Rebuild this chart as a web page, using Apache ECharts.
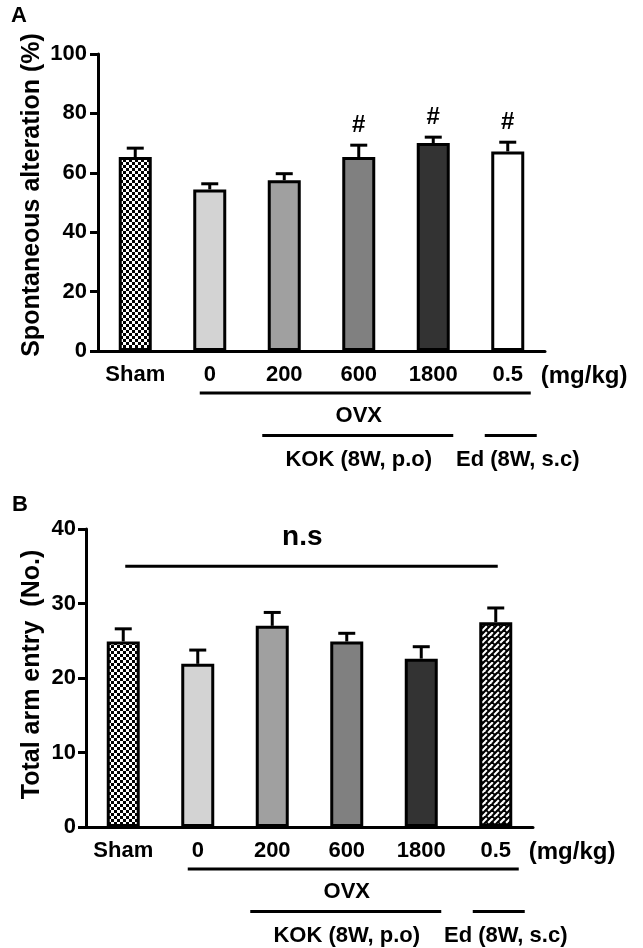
<!DOCTYPE html>
<html><head><meta charset="utf-8">
<script src="https://cdn.jsdelivr.net/npm/echarts@6/dist/echarts.min.js"></script>
<style>html,body{margin:0;padding:0;background:#fff}#c{width:643px;height:948px}</style>
</head><body><div id="c"></div>
<script>
// ---- data ----
const categories = ['Sham', '0', '200', '600', '1800', '0.5'];
const altMean = [65.3, 54.4, 57.5, 65.3, 70.0, 67.2];
const altSem = [3.0, 1.9, 2.2, 4.0, 2.0, 3.1];
const altMarks = ['', '', '', '#', '#', '#'];
const entryMean = [24.9, 21.9, 27.0, 24.9, 22.6, 27.5];
const entrySem = [1.7, 1.85, 1.8, 1.1, 1.6, 1.9];
const nsLevel = 35;
const unitLabel = '(mg/kg)';
const groupLabels = ['OVX', 'KOK (8W, p.o)', 'Ed (8W, s.c)'];

const FONT = '"Liberation Sans", Arial, sans-serif';

function checker() {
  const c = document.createElement('canvas'); c.width = 6; c.height = 6;
  const g = c.getContext('2d');
  g.fillStyle = '#fff'; g.fillRect(0, 0, 6, 6);
  g.fillStyle = '#000'; g.fillRect(0, 0, 3, 3); g.fillRect(3, 3, 3, 3);
  return c;
}
function hatch() {
  const c = document.createElement('canvas'); c.width = 12; c.height = 12;
  const g = c.getContext('2d');
  g.fillStyle = '#fff'; g.fillRect(0, 0, 12, 12);
  g.strokeStyle = '#000'; g.lineWidth = 2.2;
  for (let k = -12; k <= 36; k += 6) { g.beginPath(); g.moveTo(k, 0); g.lineTo(k - 12, 12); g.stroke(); }
  g.lineWidth = 1.8;
  const pts = [[1.5, 1.5], [7.5, 1.5], [1.5, 7.5], [7.5, 7.5]];
  for (const [px, py] of pts) for (let ox = -12; ox <= 12; ox += 12) for (let oy = -12; oy <= 12; oy += 12) {
    g.beginPath(); g.moveTo(px + ox - 1.8, py + oy - 1.8); g.lineTo(px + ox + 1.8, py + oy + 1.8); g.stroke();
  }
  return c;
}
const chk = { image: checker(), repeat: 'repeat' };
const hat = { image: hatch(), repeat: 'repeat' };
const fillsA = [chk, '#d3d3d3', '#a0a0a0', '#808080', '#333333', '#ffffff'];
const fillsB = [chk, '#d3d3d3', '#a0a0a0', '#808080', '#333333', hat];

function barSeries(idx, mean, fills) {
  return {
    type: 'bar', xAxisIndex: idx, yAxisIndex: idx, barWidth: 33, z: 2,
    data: mean.map((v, i) => ({ value: v, itemStyle: { color: fills[i], borderColor: '#000', borderWidth: 3 } }))
  };
}
function errSeries(idx, mean, sem, marks) {
  return {
    type: 'custom', xAxisIndex: idx, yAxisIndex: idx, z: 3,
    encode: { x: 0, y: [1, 2] },
    data: mean.map((m, i) => [i, m, m + sem[i]]),
    renderItem(params, api) {
      const b = api.coord([api.value(0), api.value(1)]);
      const t = api.coord([api.value(0), api.value(2)]);
      const ch = [
        { type: 'line', shape: { x1: b[0], y1: b[1], x2: b[0], y2: t[1] }, style: { stroke: '#000', lineWidth: 3 } },
        { type: 'line', shape: { x1: b[0] - 8.5, y1: t[1], x2: b[0] + 8.5, y2: t[1] }, style: { stroke: '#000', lineWidth: 3 } }
      ];
      const mk = marks ? marks[params.dataIndex] : '';
      if (mk) ch.push({ type: 'text', x: b[0], y: t[1] - 20, style: { text: mk, font: 'bold 24px ' + FONT, fill: '#000', align: 'center', verticalAlign: 'middle' } });
      return { type: 'group', children: ch };
    }
  };
}
function xAx(idx) {
  return {
    type: 'category', gridIndex: idx, data: categories,
    axisLine: { lineStyle: { color: '#000', width: 3 } },
    axisTick: { alignWithLabel: true, length: 7, lineStyle: { color: '#000', width: 3 } },
    axisLabel: { interval: 0, color: '#000', fontSize: 22, fontWeight: 'bold', fontFamily: FONT, margin: 13 }
  };
}
function yAx(idx, max, interval, margin) {
  return {
    type: 'value', gridIndex: idx, min: 0, max: max, interval: interval,
    axisLine: { show: true, lineStyle: { color: '#000', width: 3 } },
    axisTick: { show: true, length: 8, lineStyle: { color: '#000', width: 3 } },
    splitLine: { show: false },
    axisLabel: { color: '#000', fontSize: 22, fontWeight: 'bold', fontFamily: FONT, margin: margin }
  };
}

const chart = echarts.init(document.getElementById('c'), null, { renderer: 'canvas' });
chart.setOption({
  animation: false,
  backgroundColor: '#fff',
  grid: [
    { left: 98, top: 54, width: 447, height: 297 },
    { left: 86, top: 529, width: 447, height: 298 }
  ],
  xAxis: [xAx(0), xAx(1)],
  yAxis: [yAx(0, 100, 20, 11), yAx(1, 40, 10, 10)],
  series: [
    barSeries(0, altMean, fillsA), errSeries(0, altMean, altSem, altMarks),
    barSeries(1, entryMean, fillsB), errSeries(1, entryMean, entrySem, null)
  ]
});

function txt(x, y, s, size, align, extra) {
  return Object.assign({ type: 'text', x: x, y: y, style: { text: s, font: 'bold ' + size + 'px ' + FONT, fill: '#000', align: align || 'center', verticalAlign: 'middle' } }, extra || {});
}
function hline(x1, x2, y) {
  return { type: 'line', shape: { x1: x1, y1: y, x2: x2, y2: y }, style: { stroke: '#000', lineWidth: 3 } };
}
const els = [];
for (let g = 0; g < 2; g++) {
  const px = i => chart.convertToPixel({ xAxisIndex: g }, i);
  const ay = chart.convertToPixel({ yAxisIndex: g }, 0);
  els.push(txt(px(5) + 33, ay + 25, unitLabel, 24, 'left'));
  els.push(hline(px(1) - 10, px(5) + 23, ay + 42));
  els.push(txt((px(1) + px(5)) / 2, ay + 65, groupLabels[0], 22));
  els.push(hline(px(2) - 22, px(4) + 20, ay + 84.5));
  els.push(hline(px(5) - 23, px(5) + 29, ay + 84.5));
  els.push(txt((px(2) + px(4)) / 2, ay + 108.5, groupLabels[1], 22));
  els.push(txt(px(5) + 10, ay + 108.5, groupLabels[2], 22));
  if (g === 1) {
    const ny = chart.convertToPixel({ yAxisIndex: 1 }, nsLevel);
    els.push(hline(px(0) + 2, px(5) + 2, ny));
    els.push(txt(px(2) + 30, ny - 29, 'n.s', 28));
  }
}
els.push(txt(19, 16, 'A', 22));
els.push(txt(20, 504.5, 'B', 22));
els.push(txt(32, 195, 'Spontaneous alteration (%)', 25, 'center', { rotation: Math.PI / 2 }));
els.push(txt(32, 674.5, 'Total arm entry  (No.)', 25, 'center', { rotation: Math.PI / 2 }));
chart.setOption({ graphic: { elements: els } });
</script>
</body></html>
